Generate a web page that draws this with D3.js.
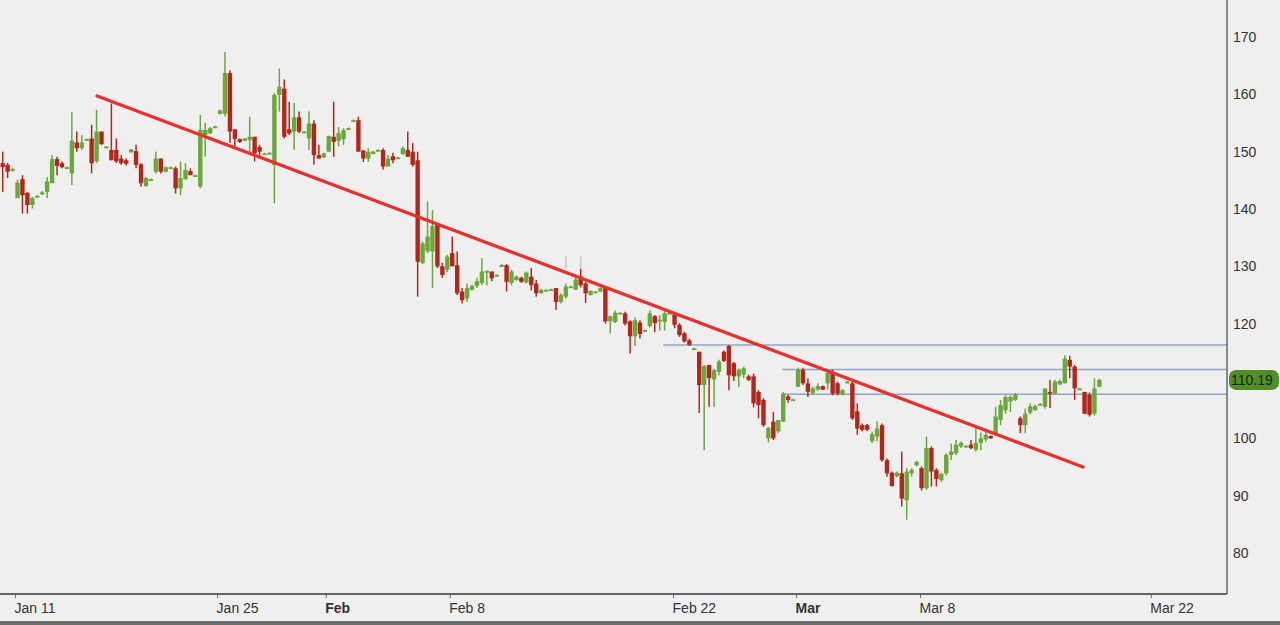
<!DOCTYPE html>
<html>
<head>
<meta charset="utf-8">
<script src="https://cdn.jsdelivr.net/npm/d3@7"></script>
<style>
    html, body { margin: 0; padding: 0; background: #efefef; overflow: hidden; }
    svg text { font-family: "Liberation Sans", Arial, sans-serif; fill: #333; }
</style>
</head>
<body>
<svg id="chart" width="1280" height="625"></svg>
<script>
//////////////////////////////////////////////
/////   CANDLESTICK CHART WITH TRENDLINE  /////
//////////////////////////////////////////////

// DATA: one row per bar -> [open, high, low, close]
const ohlc = [
    [148.0,150.0,143.0,147.3],[147.7,148.0,145.4,146.5],[146.7,147.2,146.5,147.0],[141.9,145.1,141.9,144.6],
    [145.2,145.9,139.2,142.4],[142.8,143.0,139.2,140.7],[140.7,142.1,140.1,141.9],[142.1,142.4,142.0,142.3],
    [142.6,143.1,142.4,142.9],[143.0,145.6,141.9,144.8],[144.5,149.4,144.5,148.7],[148.7,149.1,145.9,147.5],
    [148.0,148.3,147.1,147.3],[147.2,147.4,147.1,147.3],[146.2,156.9,144.2,151.9],[151.6,153.5,150.0,150.6],
    [150.6,152.9,150.3,151.6],[152.1,152.3,152.0,152.2],[152.3,154.7,146.2,148.0],[148.3,157.3,148.0,153.5],
    [153.5,153.5,151.2,151.3],[150.9,151.0,150.8,150.9],[150.3,158.4,148.5,148.5],[150.3,152.3,148.0,148.3],
    [148.8,149.4,147.7,148.0],[148.5,148.8,147.6,147.9],[149.9,150.4,149.8,150.4],[150.1,151.2,147.1,147.7],
    [147.8,148.0,143.9,144.5],[144.0,145.6,143.9,145.4],[145.2,145.3,145.1,145.2],[146.5,150.0,146.2,148.8],
    [148.8,148.8,146.2,146.5],[146.5,147.4,146.4,147.3],[147.3,147.4,147.2,147.3],[147.1,147.4,142.7,143.6],
    [143.6,148.3,142.4,145.4],[145.2,148.0,145.1,146.8],[146.6,147.1,145.9,145.9],[145.9,146.0,145.8,145.9],
    [143.9,156.4,143.6,153.8],[152.9,155.0,149.1,153.8],[153.2,154.3,153.1,154.1],[154.3,154.5,154.3,154.4],
    [156.6,157.3,156.5,157.2],[156.6,167.4,156.1,163.7],[163.7,164.2,151.5,153.5],[153.9,153.9,150.9,152.2],
    [152.2,152.3,151.5,151.7],[151.9,152.4,151.8,152.3],[152.0,156.1,150.0,152.6],[152.6,152.6,148.3,149.7],
    [150.8,151.2,148.8,150.0],[149.7,149.8,149.6,149.7],[149.8,149.9,149.7,149.8],[147.7,160.2,141.0,159.9],
    [159.9,164.5,157.0,161.3],[161.0,162.6,152.3,152.6],[153.9,158.7,152.9,153.2],[153.5,158.5,150.3,156.0],
    [156.0,157.0,153.2,153.5],[153.5,153.6,153.4,153.5],[152.3,157.0,150.3,154.9],[154.9,155.5,147.7,149.4],
    [149.4,151.2,148.8,148.8],[149.0,149.8,148.9,149.7],[150.0,152.8,150.0,152.7],[152.6,158.7,149.1,151.7],
    [151.9,154.3,150.9,153.2],[152.2,154.1,151.2,153.7],[154.0,154.2,154.0,154.1],[155.4,155.6,155.4,155.5],
    [155.5,156.1,150.0,150.0],[150.2,150.3,148.2,148.8],[148.8,150.6,148.2,150.0],[149.6,150.1,149.5,150.0],
    [150.3,150.4,150.2,150.3],[150.3,150.6,146.9,147.4],[147.4,149.4,147.4,148.8],[149.2,149.8,148.0,148.5],
    [149.0,149.1,148.9,149.0],[149.6,150.9,149.4,150.6],[150.3,153.5,149.1,149.1],[150.0,151.5,147.4,147.7],
    [148.5,150.0,124.7,130.8],[130.6,134.3,130.4,134.0],[132.6,141.3,132.3,135.2],[132.6,139.8,126.2,137.0],
    [137.2,137.5,129.7,130.0],[130.0,130.6,128.0,128.5],[129.4,132.0,129.0,131.7],[132.3,135.2,130.0,130.0],
    [130.2,132.6,125.0,125.3],[125.6,126.2,123.5,124.1],[124.4,127.0,123.8,126.2],[125.9,126.8,125.8,126.6],
    [126.6,128.0,126.2,127.4],[127.1,131.4,126.7,129.1],[129.0,129.3,126.7,129.2],[129.1,129.1,127.4,127.9],
    [128.5,128.6,128.4,128.5],[130.1,130.4,129.9,130.2],[130.2,130.4,125.6,127.3],[127.1,129.4,126.7,129.1],
    [127.6,128.4,127.5,128.2],[128.0,128.2,127.1,127.3],[127.2,129.1,127.0,128.9],[128.2,129.7,125.8,126.7],
    [127.0,127.6,124.7,125.3],[125.3,126.1,125.2,125.9],[125.9,126.0,125.8,125.9],[126.0,126.1,125.9,126.0],
    [126.2,126.2,122.4,123.8],[123.8,125.3,123.5,125.0],[124.7,127.0,124.4,126.5],[126.5,126.6,126.4,126.5],
    [125.9,128.3,125.9,127.7],[128.3,129.6,126.3,126.7],[127.0,127.3,123.6,125.3],[125.0,125.8,124.9,125.7],
    [125.6,125.7,125.5,125.6],[125.6,126.3,125.5,126.2],[126.2,126.5,120.0,120.4],[120.4,121.4,118.3,121.3],
    [120.3,122.3,120.1,121.9],[121.9,122.0,121.8,121.9],[121.8,122.1,119.7,120.0],[120.4,120.6,114.8,117.8],
    [117.8,121.1,116.1,120.6],[120.2,120.6,117.4,118.2],[118.9,119.0,118.8,118.9],[119.6,122.3,119.3,121.8],
    [121.3,121.5,118.5,120.1],[120.6,121.5,118.8,120.7],[120.3,122.3,118.8,121.8],[121.9,122.0,121.8,121.9],
    [121.6,122.0,119.2,119.8],[119.8,120.1,117.7,118.0],[118.3,118.6,116.7,116.9],[117.1,117.4,116.1,116.3],
    [115.7,115.8,115.6,115.7],[115.1,115.1,104.4,109.3],[109.3,112.8,97.9,112.6],[112.8,112.8,105.5,110.5],
    [110.3,112.1,105.5,111.9],[111.6,113.7,111.0,113.4],[115.1,115.3,113.3,113.5],[116.1,116.3,108.4,111.0],
    [113.1,113.3,110.0,110.8],[110.8,112.2,108.9,112.0],[111.1,112.5,110.5,112.2],[110.8,111.1,110.0,110.2],
    [110.8,111.3,105.4,106.1],[108.1,108.4,103.5,105.8],[106.7,107.0,102.0,102.3],[100.0,102.0,99.3,101.8],
    [102.9,104.6,99.7,100.0],[101.2,103.2,100.9,103.2],[102.9,108.1,102.9,107.8],[107.3,107.6,106.2,106.7],
    [106.8,106.9,106.7,106.8],[109.0,112.3,109.0,111.9],[111.9,112.3,109.3,109.6],[109.6,110.5,107.2,108.1],
    [107.9,109.0,107.7,108.7],[108.5,109.6,108.3,109.1],[109.1,109.2,108.4,108.5],[109.6,112.0,108.5,111.4],
    [111.6,112.0,107.5,107.8],[109.6,109.9,107.5,107.8],[107.7,108.6,107.5,108.4],[109.7,110.0,109.6,109.9],
    [109.6,109.9,103.2,103.5],[104.7,106.1,100.6,101.7],[102.3,102.6,101.2,101.5],[102.3,102.5,101.3,101.5],
    [99.5,101.2,99.2,100.7],[100.3,103.0,99.5,101.7],[102.3,102.6,95.9,96.2],[96.2,96.5,93.3,93.9],
    [94.0,94.2,91.6,91.7],[93.4,94.2,93.2,94.0],[93.9,97.7,88.1,89.5],[89.2,94.8,85.8,94.2],
    [93.9,94.8,93.3,94.5],[95.3,96.1,95.1,95.9],[94.8,95.1,90.9,91.3],[91.3,100.3,91.0,98.3],
    [98.3,98.6,91.6,94.2],[94.5,94.8,91.6,92.9],[92.7,94.0,92.4,93.8],[93.9,97.4,93.5,97.1],
    [97.1,99.1,96.2,97.7],[97.4,99.7,97.1,98.9],[98.6,99.5,98.3,99.2],[98.7,98.8,98.6,98.7],
    [98.9,99.7,98.1,98.3],[98.0,102.3,97.7,99.2],[99.2,101.0,97.9,100.0],[99.8,101.2,99.4,100.6],
    [100.4,100.5,99.9,100.0],[100.8,105.5,100.6,103.8],[103.2,106.7,102.3,105.8],[104.9,107.5,104.3,107.2],
    [106.4,107.5,104.6,107.2],[106.7,107.9,106.5,107.6],[103.5,103.8,100.9,102.3],[102.3,105.2,100.9,104.3],
    [104.5,106.1,104.2,105.6],[104.9,105.8,104.8,105.6],[105.9,106.1,105.8,106.0],[105.5,108.7,105.2,108.7],
    [108.1,110.2,105.3,107.8],[107.8,110.2,107.6,109.9],[109.4,110.2,109.3,110.0],[109.6,114.5,109.6,113.9],
    [113.7,114.4,110.5,112.5],[112.5,112.8,106.7,108.7],[108.7,108.8,108.6,108.7],[108.1,108.1,104.2,104.3],
    [107.6,108.0,103.8,104.1],[104.3,110.5,104.0,108.7],[109.0,110.4,108.9,110.19]
]

const xTickIdx    = [2.5, 43.4, 65.4, 90.5, 135.7, 160.6, 185.7, 232.4]     // bar index of each date tick
const xTickLabels = ['Jan 11', 'Jan 25', 'Feb', 'Feb 8', 'Feb 22', 'Mar', 'Mar 8', 'Mar 22']
const yTicks      = [80, 90, 100, 120, 130, 140, 150, 160, 170]            // 110 sits under the price tag
const levels      = [[133.7, 116.3], [157.8, 112.0], [157.8, 107.7]]      // [start bar, price]
const trendLine   = [[19.1, 159.7], [218.7, 95.0]]                         // [bar, price]
const ghostWicks  = [[114, 131.7, 129.7], [117, 131.7, 129.7]]             // faint grey spikes [bar, high, low]
const lastPrice   = 110.19


// SETTINGS
const settings = {
    width: 1280, height: 625,
    plot: { right: 1227, bottom: 594 },
    colors: { up: '#6aa83c', down: '#b3261c', trend: '#e8302e', level: '#8fa6c2', axis: '#666', tag: '#4f8f26' }
}


// I. SCALES
const x = d3.scaleLinear().domain([0, ohlc.length - 1]).range([2.7, 2.7 + 4.94 * (ohlc.length - 1)])
const y = d3.scaleLinear().domain([80, 170]).range([553, 37])

const svg = d3.select('#chart')

svg.append('defs').append('clipPath').attr('id', 'plot-clip')
    .append('rect').attr('x', 0).attr('y', 0)
    .attr('width', settings.plot.right).attr('height', settings.plot.bottom)

const plot = svg.append('g').attr('clip-path', 'url(#plot-clip)')


// II. HORIZONTAL LEVELS (under the bars)
plot.selectAll('.level').data(levels).join('line')
    .attr('class', 'level')
    .attr('x1', d => x(d[0])).attr('x2', settings.plot.right)
    .attr('y1', d => y(d[1])).attr('y2', d => y(d[1]))
    .attr('stroke', settings.colors.level).attr('stroke-width', 1.5)

// faint grey spikes
plot.selectAll('.ghost').data(ghostWicks).join('line')
    .attr('class', 'ghost')
    .attr('x1', d => x(d[0])).attr('x2', d => x(d[0]))
    .attr('y1', d => y(d[1])).attr('y2', d => y(d[2]))
    .attr('stroke', '#cfcfcf').attr('stroke-width', 2)


// III. CANDLES
const bodyW = 4.4
const bar = plot.selectAll('.bar').data(ohlc).join('g')
    .attr('class', 'bar')
    .attr('fill', d => d[3] >= d[0] ? settings.colors.up : settings.colors.down)
    .attr('stroke', d => d[3] >= d[0] ? settings.colors.up : settings.colors.down)

bar.append('line')
    .attr('x1', (d, i) => x(i)).attr('x2', (d, i) => x(i))
    .attr('y1', d => y(d[1])).attr('y2', d => y(d[2]))
    .attr('stroke-width', 1.5)

bar.append('rect')
    .attr('stroke', 'none')
    .attr('x', (d, i) => x(i) - bodyW / 2)
    .attr('width', bodyW)
    .attr('y', d => y(Math.max(d[0], d[3])))
    .attr('height', d => Math.max(1.8, Math.abs(y(d[0]) - y(d[3]))))


// IV. TRENDLINE
plot.append('line')
    .attr('x1', x(trendLine[0][0])).attr('y1', y(trendLine[0][1]))
    .attr('x2', x(trendLine[1][0])).attr('y2', y(trendLine[1][1]))
    .attr('stroke', settings.colors.trend).attr('stroke-width', 3.3).attr('stroke-linecap', 'round')


// V. AXES
// frame lines
svg.append('line').attr('x1', settings.plot.right).attr('x2', settings.plot.right)
    .attr('y1', 0).attr('y2', settings.plot.bottom)
    .attr('stroke', settings.colors.axis).attr('stroke-width', 1.5)
svg.append('line').attr('x1', 0).attr('x2', settings.plot.right)
    .attr('y1', settings.plot.bottom).attr('y2', settings.plot.bottom)
    .attr('stroke', settings.colors.axis).attr('stroke-width', 1.8)
svg.append('rect').attr('x', 0).attr('y', 621).attr('width', settings.width).attr('height', 4)
    .attr('fill', '#6a6a6a')

// y axis (right)
const yAxis = svg.append('g')
    .attr('transform', `translate(${settings.plot.right},0)`)
    .call(d3.axisRight(y).tickValues(yTicks).tickSize(0).tickPadding(6).tickFormat(d3.format('d')))
yAxis.select('.domain').remove()
yAxis.selectAll('text').attr('font-size', 14).attr('fill', '#333').attr('font-family', null)

// x axis (dates)
const xAxis = svg.append('g')
    .attr('transform', `translate(0,${settings.plot.bottom})`)
    .call(d3.axisBottom(x).tickValues(xTickIdx).tickSize(4).tickPadding(5)
        .tickFormat((d, i) => xTickLabels[i]))
xAxis.select('.domain').remove()
xAxis.selectAll('.tick line').attr('stroke', '#666')
xAxis.selectAll('text')
    .attr('text-anchor', 'start').attr('x', -1)
    .attr('font-size', 14).attr('fill', '#333').attr('font-family', null)
    .attr('font-weight', d => xTickLabels[xTickIdx.indexOf(d)].indexOf(' ') < 0 ? 'bold' : null)


// VI. LAST PRICE TAG
const tag = svg.append('g').attr('transform', `translate(1229,${y(lastPrice)})`)
tag.append('rect')
    .attr('x', 0).attr('y', -10).attr('width', 50).attr('height', 20).attr('rx', 7)
    .attr('fill', settings.colors.tag)
tag.append('text')
    .attr('x', 2).attr('y', 5)
    .attr('font-size', 14).style('fill', '#15290a')
    .text(d3.format('.2f')(lastPrice))
</script>
</body>
</html>
